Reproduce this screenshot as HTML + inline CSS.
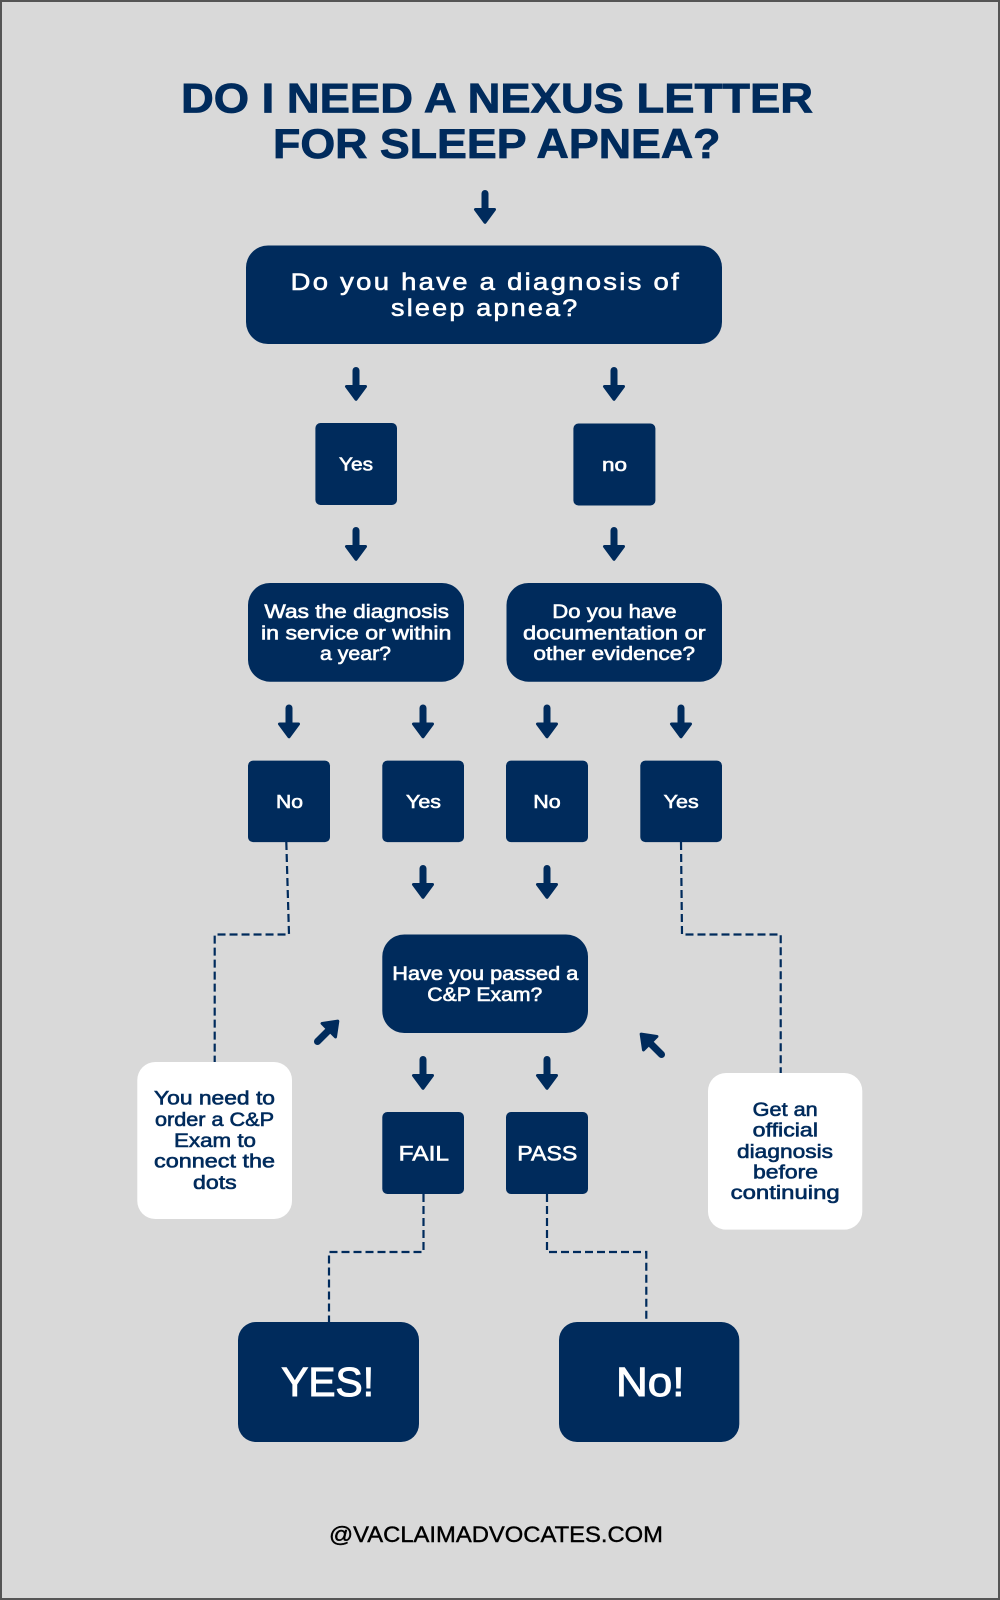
<!DOCTYPE html>
<html lang="en">
<head>
<meta charset="utf-8">
<title>Do I need a nexus letter for sleep apnea?</title>
<style>
html,body{margin:0;padding:0;width:1000px;height:1600px;overflow:hidden;background:#d9d9d9}
svg{display:block}
text{font-family:"Liberation Sans",Arial,sans-serif;font-weight:400}
.w{fill:#fff;stroke:#fff;stroke-width:.6}
.n{fill:#002b5c;stroke:#002b5c;stroke-width:.6}
.b{fill:#002b5c;stroke:none}
.c{fill:#fff;stroke:none}
.d{fill:none;stroke:#002b5c;stroke-width:2.200;stroke-dasharray:8 4}
.t{font-weight:700;stroke-width:.8}
</style>
</head>
<body>
<svg width="1000" height="1600" viewBox="0 0 1000 1600" xmlns="http://www.w3.org/2000/svg">
<defs>
<g id="a"><path d="M0 3.500V20" stroke="#002b5c" stroke-width="7" stroke-linecap="round" fill="none"/><path d="M-9.500 19.500H9.500L0 32.300Z" fill="#002b5c" stroke="#002b5c" stroke-width="3" stroke-linejoin="round"/></g>
</defs>
<rect x="1" y="1" width="998" height="1598" fill="#d9d9d9" stroke="#555" stroke-width="2"/>

<text class="n t" x="181" y="112.300" font-size="42" textLength="632" lengthAdjust="spacingAndGlyphs">DO I NEED A NEXUS LETTER</text>
<text class="n t" x="273" y="158" font-size="42" textLength="447.500" lengthAdjust="spacingAndGlyphs">FOR SLEEP APNEA?</text>

<use href="#a" x="485" y="190"/>
<rect class="b" x="246" y="245.500" width="476" height="98.500" rx="22"/>
<text class="w" x="290.600" y="290" font-size="24" letter-spacing="2" textLength="390.400" lengthAdjust="spacingAndGlyphs">Do you have a diagnosis of</text>
<text class="w" x="391" y="316" font-size="24" letter-spacing="2" textLength="188.500" lengthAdjust="spacingAndGlyphs">sleep apnea?</text>

<use href="#a" x="356" y="367"/>
<use href="#a" x="614" y="367"/>
<rect class="b" x="315.400" y="423" width="81.600" height="82" rx="5"/>
<rect class="b" x="573.400" y="423.500" width="82" height="82" rx="5"/>
<text class="w" x="339" y="470.700" font-size="18.500" textLength="34" lengthAdjust="spacingAndGlyphs">Yes</text>
<text class="w" x="602" y="471" font-size="18.500" textLength="25" lengthAdjust="spacingAndGlyphs">no</text>

<use href="#a" x="356" y="527"/>
<use href="#a" x="614" y="527"/>
<rect class="b" x="248" y="583" width="216" height="98.700" rx="22"/>
<rect class="b" x="506.500" y="583" width="215.500" height="98.700" rx="22"/>
<text class="w" x="264.400" y="618" font-size="19" textLength="184.600" lengthAdjust="spacingAndGlyphs">Was the diagnosis</text>
<text class="w" x="261" y="639.300" font-size="19" textLength="190.400" lengthAdjust="spacingAndGlyphs">in service or within</text>
<text class="w" x="320" y="660" font-size="19" textLength="71" lengthAdjust="spacingAndGlyphs">a year?</text>
<text class="w" x="552.300" y="618" font-size="19" textLength="124.300" lengthAdjust="spacingAndGlyphs">Do you have</text>
<text class="w" x="523" y="639.300" font-size="19" textLength="182.600" lengthAdjust="spacingAndGlyphs">documentation or</text>
<text class="w" x="533.400" y="660" font-size="19" textLength="161.600" lengthAdjust="spacingAndGlyphs">other evidence?</text>

<use href="#a" x="289" y="704.500"/>
<use href="#a" x="423" y="704.500"/>
<use href="#a" x="547" y="704.500"/>
<use href="#a" x="681" y="704.500"/>
<rect class="b" x="248" y="760.600" width="82" height="81.500" rx="5"/>
<rect class="b" x="382.300" y="760.600" width="81.700" height="81.500" rx="5"/>
<rect class="b" x="506" y="760.600" width="82" height="81.500" rx="5"/>
<rect class="b" x="640.300" y="760.600" width="81.700" height="81.500" rx="5"/>
<text class="w" x="276" y="808" font-size="18.500" textLength="27" lengthAdjust="spacingAndGlyphs">No</text>
<text class="w" x="406" y="808" font-size="18.500" textLength="35" lengthAdjust="spacingAndGlyphs">Yes</text>
<text class="w" x="533.300" y="808" font-size="18.500" textLength="27.400" lengthAdjust="spacingAndGlyphs">No</text>
<text class="w" x="663.700" y="808" font-size="18.500" textLength="35" lengthAdjust="spacingAndGlyphs">Yes</text>

<path class="d" d="M286.300 842L289 934.500H214.700V1062"/>
<path class="d" d="M681 842L682 934.500H780.700V1073"/>

<use href="#a" x="423" y="865"/>
<use href="#a" x="547" y="865"/>
<rect class="b" x="382.300" y="934.500" width="205.700" height="98.500" rx="22"/>
<text class="w" x="392.300" y="980" font-size="19" textLength="186" lengthAdjust="spacingAndGlyphs">Have you passed a</text>
<text class="w" x="427.300" y="1001" font-size="19" textLength="115" lengthAdjust="spacingAndGlyphs">C&amp;P Exam?</text>

<use href="#a" transform="translate(315 1044) rotate(-135)"/>
<use href="#a" transform="translate(664 1057) rotate(135)"/>

<rect class="c" x="137.300" y="1062" width="154.700" height="157" rx="18"/>
<text class="n" x="154" y="1104.600" font-size="19" textLength="121" lengthAdjust="spacingAndGlyphs">You need to</text>
<text class="n" x="155" y="1126" font-size="19" textLength="119" lengthAdjust="spacingAndGlyphs">order a C&amp;P</text>
<text class="n" x="174" y="1147" font-size="19" textLength="82" lengthAdjust="spacingAndGlyphs">Exam to</text>
<text class="n" x="154" y="1167.600" font-size="19" textLength="121" lengthAdjust="spacingAndGlyphs">connect the</text>
<text class="n" x="193" y="1189" font-size="19" textLength="43.700" lengthAdjust="spacingAndGlyphs">dots</text>

<rect class="c" x="708" y="1073" width="154.300" height="156.600" rx="18"/>
<text class="n" x="752.700" y="1116" font-size="19" textLength="65" lengthAdjust="spacingAndGlyphs">Get an</text>
<text class="n" x="752.700" y="1136.600" font-size="19" textLength="65.300" lengthAdjust="spacingAndGlyphs">official</text>
<text class="n" x="737" y="1158" font-size="19" textLength="96" lengthAdjust="spacingAndGlyphs">diagnosis</text>
<text class="n" x="753" y="1178.600" font-size="19" textLength="65" lengthAdjust="spacingAndGlyphs">before</text>
<text class="n" x="730.700" y="1199" font-size="19" textLength="109" lengthAdjust="spacingAndGlyphs">continuing</text>

<use href="#a" x="423" y="1056"/>
<use href="#a" x="547" y="1056"/>
<rect class="b" x="382.300" y="1112" width="81.700" height="82" rx="5"/>
<rect class="b" x="506" y="1112" width="82" height="82" rx="5"/>
<text class="w" x="398.700" y="1160.700" font-size="21" textLength="50.300" lengthAdjust="spacingAndGlyphs">FAIL</text>
<text class="w" x="517.300" y="1160.700" font-size="21" textLength="60" lengthAdjust="spacingAndGlyphs">PASS</text>

<path class="d" d="M423.500 1194V1252H329V1322"/>
<path class="d" d="M547 1194V1252H646.300V1322"/>

<rect class="b" x="238" y="1322" width="181" height="120" rx="18"/>
<rect class="b" x="559" y="1322" width="180.300" height="120" rx="18"/>
<text class="w" x="281.300" y="1396" font-size="41" textLength="92.700" lengthAdjust="spacingAndGlyphs" style="stroke-width:1">YES!</text>
<text class="w" x="616" y="1396" font-size="41" textLength="68.500" lengthAdjust="spacingAndGlyphs" style="stroke-width:1">No!</text>

<text x="329" y="1542" font-size="22" fill="#000" stroke="#000" stroke-width=".4" textLength="334" lengthAdjust="spacingAndGlyphs">@VACLAIMADVOCATES.COM</text>
</svg>
</body>
</html>
